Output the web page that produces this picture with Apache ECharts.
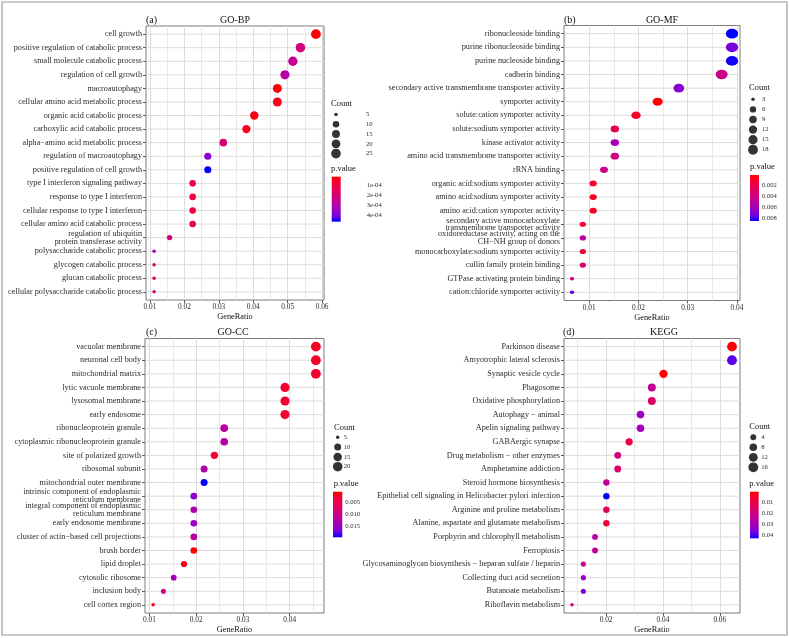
<!DOCTYPE html>
<html>
<head>
<meta charset="utf-8">
<script src="https://cdn.jsdelivr.net/npm/echarts@6/dist/echarts.min.js"></script>
<style>
  html, body { margin: 0; padding: 0; background: #fff; }
  #chart { width: 789px; height: 638px; }
</style>
</head>
<body>
<div id="chart"></div>
<script>
// ---------------- data (top to bottom in each panel) ----------------
const bpTerms = [
  "cell growth", "positive regulation of catabolic process", "small molecule catabolic process",
  "regulation of cell growth", "macroautophagy", "cellular amino acid metabolic process",
  "organic acid catabolic process", "carboxylic acid catabolic process", "alpha\u2212amino acid metabolic process",
  "regulation of macroautophagy", "positive regulation of cell growth", "type I interferon signaling pathway",
  "response to type I interferon", "cellular response to type I interferon", "cellular amino acid catabolic process",
  "regulation of ubiquitin\nprotein transferase activity", "polysaccharide catabolic process",
  "glycogen catabolic process", "glucan catabolic process", "cellular polysaccharide catabolic process"
];
const bpRatio = [0.0582, 0.0537, 0.0515, 0.0492, 0.0470, 0.0470, 0.0403, 0.0380, 0.0313, 0.0268,
                 0.0268, 0.0224, 0.0224, 0.0224, 0.0224, 0.0157, 0.0112, 0.0112, 0.0112, 0.0112];
const bpCount = [26, 24, 23, 22, 21, 21, 18, 17, 14, 12, 12, 10, 10, 10, 10, 7, 5, 5, 5, 5];
const bpPval = [2.2e-5, 2.15e-4, 2.6e-4, 2.94e-4, 8e-6, 4.5e-5, 3.1e-5, 4.5e-5, 1.92e-4, 3.77e-4,
                4.69e-4, 9.1e-5, 9.1e-5, 9.1e-5, 1.46e-4, 2.02e-4, 3.21e-4, 1.46e-4, 1.69e-4, 2.02e-4];

const mfTerms = [
  "ribonucleoside binding", "purine ribonucleoside binding", "purine nucleoside binding", "cadherin binding",
  "secondary active transmembrane transporter activity", "symporter activity", "solute:cation symporter activity",
  "solute:sodium symporter activity", "kinase activator activity", "amino acid transmembrane transporter activity",
  "rRNA binding", "organic acid:sodium symporter activity", "amino acid:sodium symporter activity",
  "amino acid:cation symporter activity", "secondary active monocarboxylate\ntransmembrane transporter activity",
  "oxidoreductase activity, acting on the\nCH\u2212NH group of donors", "monocarboxylate:sodium symporter activity",
  "cullin family protein binding", "GTPase activating protein binding", "cation:chloride symporter activity"
];
const mfRatio = [0.0390, 0.0390, 0.0390, 0.0369, 0.0282, 0.0239, 0.0195, 0.0152, 0.0152, 0.0152,
                 0.0130, 0.0108, 0.0108, 0.0108, 0.0087, 0.0087, 0.0087, 0.0087, 0.0065, 0.0065];
const mfCount = [18, 18, 18, 17, 13, 11, 9, 7, 7, 7, 6, 5, 5, 5, 4, 4, 4, 4, 3, 3];
const mfPval = [0.00856, 0.0073, 0.0084, 0.0043, 0.0069, 0.00002, 0.0009, 0.0022, 0.0060, 0.0039,
                0.0043, 0.0009, 0.0009, 0.0009, 0.0013, 0.0052, 0.0013, 0.0034, 0.0043, 0.0077];

const ccTerms = [
  "vacuolar membrane", "neuronal cell body", "mitochondrial matrix", "lytic vacuole membrane",
  "lysosomal membrane", "early endosome", "ribonucleoprotein granule", "cytoplasmic ribonucleoprotein granule",
  "site of polarized growth", "ribosomal subunit", "mitochondrial outer membrane",
  "intrinsic component of endoplasmic\nreticulum membrane", "integral component of endoplasmic\nreticulum membrane",
  "early endosome membrane", "cluster of actin\u2212based cell projections", "brush border", "lipid droplet",
  "cytosolic ribosome", "inclusion body", "cell cortex region"
];
const ccRatio = [0.0456, 0.0456, 0.0456, 0.0390, 0.0390, 0.0390, 0.0260, 0.0260, 0.0239, 0.0217,
                 0.0217, 0.0195, 0.0195, 0.0195, 0.0195, 0.0195, 0.0174, 0.0152, 0.0130, 0.0108];
const ccCount = [21, 21, 21, 18, 18, 18, 12, 12, 11, 10, 10, 9, 9, 9, 9, 9, 8, 7, 6, 5];
const ccPval = [0.0023, 0.0025, 0.0027, 0.0028, 0.0028, 0.0030, 0.0118, 0.0120, 0.0033, 0.0128,
                0.0194, 0.0156, 0.0128, 0.0146, 0.0118, 0.00042, 0.0014, 0.0137, 0.0090, 0.0012];

const keggTerms = [
  "Parkinson disease", "Amyotrophic lateral sclerosis", "Synaptic vesicle cycle", "Phagosome",
  "Oxidative phosphorylation", "Autophagy \u2212 animal", "Apelin signaling pathway", "GABAergic synapse",
  "Drug metabolism \u2212 other enzymes", "Amphetamine addiction", "Steroid hormone biosynthesis",
  "Epithelial cell signaling in Helicobacter pylori infection", "Arginine and proline metabolism",
  "Alanine, aspartate and glutamate metabolism", "Porphyrin and chlorophyll metabolism", "Ferroptosis",
  "Glycosaminoglycan biosynthesis \u2212 heparan sulfate / heparin", "Collecting duct acid secretion",
  "Butanoate metabolism", "Riboflavin metabolism"
];
const keggRatio = [0.0643, 0.0643, 0.0402, 0.0361, 0.0361, 0.0321, 0.0321, 0.0281, 0.0241, 0.0241,
                   0.0201, 0.0201, 0.0201, 0.0201, 0.0161, 0.0161, 0.0120, 0.0120, 0.0120, 0.0080];
const keggCount = [16, 16, 10, 9, 9, 8, 8, 7, 6, 6, 5, 5, 5, 5, 4, 4, 3, 3, 3, 2];
const keggPval = [0.0015, 0.0388, 0.00064, 0.0240, 0.0155, 0.0324, 0.0303, 0.0091, 0.0197, 0.0155,
                  0.0240, 0.043, 0.0134, 0.0070, 0.0261, 0.0240, 0.0240, 0.0324, 0.0367, 0.0176];

// axis breaks and legend breaks
const bpTicks = [0.01, 0.02, 0.03, 0.04, 0.05, 0.06];
const bpMinor = [0.015, 0.025, 0.035, 0.045, 0.055];
const mfTicks = [0.01, 0.02, 0.03, 0.04];
const mfMinor = [0.015, 0.025, 0.035];
const ccTicks = [0.01, 0.02, 0.03, 0.04];
const ccMinor = [0.015, 0.025, 0.035, 0.045];
const keggTicks = [0.02, 0.04, 0.06];
const keggMinor = [0.01, 0.03, 0.05];

const bpSizeBreaks = [5, 10, 15, 20, 25];
const mfSizeBreaks = [3, 6, 9, 12, 15, 18];
const ccSizeBreaks = [5, 10, 15, 20];
const keggSizeBreaks = [4, 8, 12, 16];

const bpColorBreaks = [1e-4, 2e-4, 3e-4, 4e-4];
const mfColorBreaks = [0.002, 0.004, 0.006, 0.008];
const ccColorBreaks = [0.005, 0.010, 0.015];
const keggColorBreaks = [0.01, 0.02, 0.03, 0.04];

// red -> blue gradient (interpolated like ggplot, through magenta)
const gradColors = ["#FF0000", "#F40031", "#E8004F", "#DA006C", "#CA0089",
                    "#B500A5", "#9A00C3", "#7300E0", "#0000FF"];

const FONT = '"Liberation Serif", "Times New Roman", serif';
const TXT = "#2b2b2b";
const GRID_MAJOR = "#dcdcdc";
const GRID_MINOR = "#e8e8e8";

// ---------------- panel layout ----------------
const expFmt = v => v.toExponential(0).replace(/e-(\d)$/, "e-0$1");
const panels = [
  { tag: "(a)", title: "GO-BP", terms: bpTerms, ratio: bpRatio, count: bpCount, pval: bpPval,
    ticks: bpTicks, minor: bpMinor, sizeBreaks: bpSizeBreaks, colorBreaks: bpColorBreaks,
    fmt: v => v.toFixed(2), cfmt: expFmt, stretch: 1,
    box: [146, 26, 178, 274], tagX: 146, titleX: 235, headY: 20,
    countT: [331, 104], countG: [331, 109.5, 10, 49], countM: 25,
    pT: [331, 169], barG: [331.7, 176.7, 9, 45], barM: 26 },
  { tag: "(b)", title: "GO-MF", terms: mfTerms, ratio: mfRatio, count: mfCount, pval: mfPval,
    ticks: mfTicks, minor: mfMinor, sizeBreaks: mfSizeBreaks, colorBreaks: mfColorBreaks,
    fmt: v => v.toFixed(2), cfmt: v => v.toFixed(3), stretch: 1.25,
    box: [564, 25.5, 176, 275], tagX: 564, titleX: 662, headY: 20,
    countT: [749, 88], countG: [748, 94.3, 10, 60.5], countM: 4,
    pT: [750, 166.7], barG: [750, 175, 9, 46], barM: 3 },
  { tag: "(c)", title: "GO-CC", terms: ccTerms, ratio: ccRatio, count: ccCount, pval: ccPval,
    ticks: ccTicks, minor: ccMinor, sizeBreaks: ccSizeBreaks, colorBreaks: ccColorBreaks,
    fmt: v => v.toFixed(2), cfmt: v => v.toFixed(3), stretch: 1,
    box: [145, 338.5, 179, 274.5], tagX: 146, titleX: 233, headY: 332,
    countT: [334, 427.7], countG: [332.7, 432.4, 10, 39.2], countM: 1,
    pT: [333.7, 483.3], barG: [333, 491.7, 9.3, 45.6], barM: 3 },
  { tag: "(d)", title: "KEGG", terms: keggTerms, ratio: keggRatio, count: keggCount, pval: keggPval,
    ticks: keggTicks, minor: keggMinor, sizeBreaks: keggSizeBreaks, colorBreaks: keggColorBreaks,
    fmt: v => v.toFixed(2), cfmt: v => v.toFixed(2), stretch: 1,
    box: [564, 338.5, 176, 274.5], tagX: 563, titleX: 664, headY: 332,
    countT: [749.3, 426.7], countG: [748.3, 432.3, 10, 40], countM: 3,
    pT: [749.3, 483.3], barG: [750, 491.7, 8.7, 46.6], barM: 3 }
];

// ggplot-like area scaling of point size
function sizeFn(p) {
  const cmin = Math.min(...p.count), cmax = Math.max(...p.count);
  return c => 3.5 + 6.3 * Math.sqrt(Math.max(0, c - cmin) / (cmax - cmin));
}

const grid = [], xAxis = [], yAxis = [], series = [], visualMap = [], graphic = [];

panels.forEach((p, i) => {
  const n = p.terms.length;
  const rmin = Math.min(...p.ratio), rmax = Math.max(...p.ratio);
  const pad = (rmax - rmin) * 0.05;
  const xmin = rmin - pad, xmax = rmax + pad;
  const pmin = Math.min(...p.pval), pmax = Math.max(...p.pval);
  const sz = sizeFn(p);
  const rows = p.terms.map((t, k) => k);

  // main plot
  grid.push({ left: p.box[0], top: p.box[1], width: p.box[2], height: p.box[3],
              show: true, borderColor: "#7a7a7a", borderWidth: 1, backgroundColor: "#fff" });
  // count legend
  grid.push({ left: p.countG[0], top: p.countG[1], width: p.countG[2], height: p.countG[3] });
  // colour bar
  grid.push({ left: p.barG[0], top: p.barG[1], width: p.barG[2], height: p.barG[3] });

  const g0 = i * 3;
  xAxis.push({
    type: "value", gridIndex: g0, min: xmin, max: xmax, position: "bottom",
    axisLine: { show: false, onZero: false },
    axisTick: { show: true, length: 3, customValues: p.ticks, lineStyle: { color: "#333", width: 0.8 } },
    axisLabel: { customValues: p.ticks, formatter: p.fmt, fontFamily: FONT, fontSize: 7.3, color: TXT, margin: 4 },
    splitLine: { show: true, lineStyle: { color: GRID_MAJOR, width: 1 } },
    name: "GeneRatio", nameLocation: "middle", nameGap: 13,
    nameTextStyle: { fontFamily: FONT, fontSize: 8.3, color: "#111" }
  });
  xAxis.push({
    type: "value", gridIndex: g0, min: xmin, max: xmax, position: "top",
    axisLine: { show: false, onZero: false }, axisLabel: { show: false },
    axisTick: { show: false, customValues: p.minor },
    splitLine: { show: true, lineStyle: { color: GRID_MINOR, width: 1 } }
  });
  xAxis.push({ type: "value", gridIndex: g0 + 1, min: 0, max: 1, show: false });
  xAxis.push({ type: "value", gridIndex: g0 + 2, min: 0, max: 1, show: false });

  yAxis.push({
    type: "value", gridIndex: g0, min: -0.6, max: n - 1 + 0.6, inverse: true,
    axisLine: { show: false, onZero: false },
    axisTick: { show: true, length: 3, customValues: rows, lineStyle: { color: "#333", width: 0.8 } },
    axisLabel: { customValues: rows, formatter: v => p.terms[Math.round(v)], fontFamily: FONT,
                 fontSize: 8.2, lineHeight: 7.6, color: TXT, margin: 4, align: "right" },
    splitLine: { show: false }
  });
  yAxis.push({
    type: "category", gridIndex: g0 + 1, data: p.sizeBreaks.map(String), inverse: true, position: "right",
    axisLine: { show: false }, axisTick: { show: false },
    axisLabel: { align: "left", margin: p.countM, fontFamily: FONT, fontSize: 6.6, color: TXT }
  });
  yAxis.push({
    type: "value", gridIndex: g0 + 2, min: pmin, max: pmax, inverse: true, position: "right", z: 5,
    axisLine: { show: false },
    axisTick: { show: true, inside: true, length: 2, customValues: p.colorBreaks, lineStyle: { color: "#fff", width: 0.8 } },
    axisLabel: { customValues: p.colorBreaks, formatter: p.cfmt, align: "left", margin: p.barM,
                 fontFamily: FONT, fontSize: 6.6, color: TXT },
    splitLine: { show: false }
  });

  // horizontal grid lines, one per term row
  series.push({
    type: "custom", xAxisIndex: i * 4, yAxisIndex: g0, silent: true, z: 1,
    data: rows.map(k => [k]),
    encode: { y: 0 },
    renderItem: (params, api) => {
      const a = api.coord([xmin, api.value(0)]);
      const b = api.coord([xmax, api.value(0)]);
      return { type: "line", shape: { x1: a[0], y1: a[1], x2: b[0], y2: b[1] },
               style: { stroke: GRID_MAJOR, lineWidth: 1 } };
    }
  });
  // dots
  series.push({
    type: "scatter", name: p.title, xAxisIndex: i * 4, yAxisIndex: g0,
    data: p.ratio.map((r, k) => [r, k, p.count[k], p.pval[k]]),
    symbol: "circle",
    symbolSize: v => { const d = sz(v[2]); return [d * p.stretch, d]; },
    itemStyle: { opacity: 1 }, z: 3
  });
  visualMap.push({
    type: "continuous", show: false, seriesIndex: series.length - 1, dimension: 3,
    min: pmin, max: pmax, inRange: { color: gradColors }
  });
  // size legend
  series.push({
    type: "scatter", xAxisIndex: i * 4 + 2, yAxisIndex: g0 + 1,
    data: p.sizeBreaks.map((b, k) => [0.5, k, b]),
    symbol: "circle", symbolSize: v => sz(v[2]),
    itemStyle: { color: "#000" }, silent: true
  });
  // colour bar
  series.push({
    type: "custom", xAxisIndex: i * 4 + 3, yAxisIndex: g0 + 2, silent: true, z: 1,
    data: [[0, pmin, pmax]],
    encode: { x: 0, y: [1, 2] },
    renderItem: (params, api) => {
      const a = api.coord([0, api.value(1)]);
      const b = api.coord([1, api.value(2)]);
      return {
        type: "rect",
        shape: { x: a[0], y: Math.min(a[1], b[1]), width: b[0] - a[0], height: Math.abs(b[1] - a[1]) },
        style: {
          fill: new echarts.graphic.LinearGradient(0, 0, 0, 1,
            gradColors.map((c, k) => ({ offset: k / (gradColors.length - 1), color: c })))
        }
      };
    }
  });

  // headings and legend titles
  graphic.push({ type: "text", x: p.tagX, y: p.headY,
    style: { text: p.tag, font: `10px ${FONT}`, fill: "#111", textAlign: "left", textVerticalAlign: "middle" } });
  graphic.push({ type: "text", x: p.titleX, y: p.headY,
    style: { text: p.title, font: `10px ${FONT}`, fill: "#111", textAlign: "center", textVerticalAlign: "middle" } });
  graphic.push({ type: "text", x: p.countT[0], y: p.countT[1],
    style: { text: "Count", font: `8.5px ${FONT}`, fill: "#111", textAlign: "left", textVerticalAlign: "middle" } });
  graphic.push({ type: "text", x: p.pT[0], y: p.pT[1],
    style: { text: "p.value", font: `8.5px ${FONT}`, fill: "#111", textAlign: "left", textVerticalAlign: "middle" } });
});

// outer frame
graphic.push({ type: "rect", shape: { x: 2, y: 2, width: 785, height: 633 }, silent: true,
  style: { fill: "none", stroke: "#9a9a9a", lineWidth: 1.2 } });

const chart = echarts.init(document.getElementById("chart"), null, { renderer: "canvas" });
chart.setOption({
  animation: false,
  backgroundColor: "#fff",
  textStyle: { fontFamily: FONT },
  grid, xAxis, yAxis, series, visualMap, graphic
});
</script>
</body>
</html>
